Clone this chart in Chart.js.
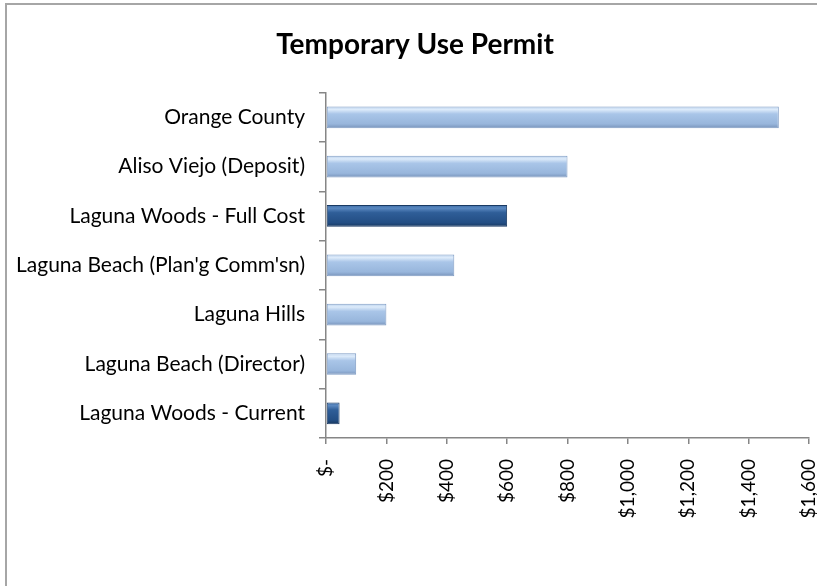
<!DOCTYPE html>
<html>
<head>
<meta charset="utf-8">
<script src="https://cdn.jsdelivr.net/npm/chart.js@4/dist/chart.umd.min.js"></script>
<style>
  html, body { margin: 0; padding: 0; background: #fff; }
  #wrap { position: relative; width: 817px; height: 586px; }
</style>
</head>
<body>
<div id="wrap"><canvas id="c"></canvas></div>
<script>
const categories = [
  "Orange County",
  "Aliso Viejo (Deposit)",
  "Laguna Woods - Full Cost",
  "Laguna Beach (Plan'g Comm'sn)",
  "Laguna Hills",
  "Laguna Beach (Director)",
  "Laguna Woods - Current"
];
const permitFees = [1500, 800, 600, 425, 200, 100, 45];
const xTickMin = 0;
const xTickMax = 1600;
const xTickStep = 200;
const chartTitle = "Temporary Use Permit";

function isHighlight(i) { return categories[i].indexOf("Laguna Woods") === 0; }

function barFill(ctx) {
  const dark = isHighlight(ctx.dataIndex);
  const fallback = dark ? "#2B5B94" : "#9DBBE0";
  const chart = ctx.chart;
  const ys = chart.scales && chart.scales.y;
  if (!ys || ctx.type !== "data") return fallback;
  const c = ys.getPixelForValue(ctx.dataIndex);
  if (!isFinite(c)) return fallback;
  const h = 11;
  const g = chart.ctx.createLinearGradient(0, c - h, 0, c + h);
  if (dark) {
    g.addColorStop(0, "#3E6DA6");
    g.addColorStop(0.15, "#5A88C0");
    g.addColorStop(0.35, "#2F5E98");
    g.addColorStop(0.8, "#234E84");
    g.addColorStop(1, "#17375E");
  } else {
    g.addColorStop(0, "#B7CFEC");
    g.addColorStop(0.15, "#DDEBFA");
    g.addColorStop(0.35, "#A9C5E8");
    g.addColorStop(0.8, "#98B6DC");
    g.addColorStop(1, "#7893BA");
  }
  return g;
}

const frame = {
  id: "frame",
  beforeDraw(chart) {
    // widen the label clip area of the category axis so long labels are not cut
    if (chart.scales.y) chart.scales.y.left = 0;
  },
  afterDraw(chart) {
    const x = chart.ctx;
    x.save();
    x.strokeStyle = "#A6A6A6";
    x.lineWidth = 2;
    x.beginPath();
    x.moveTo(6, 586);
    x.lineTo(6, 4);
    x.lineTo(817, 4);
    x.stroke();
    x.restore();
  }
};

new Chart(document.getElementById("c"), {
  type: "bar",
  data: {
    labels: categories,
    datasets: [{
      data: permitFees,
      backgroundColor: barFill,
      borderColor: (ctx) => isHighlight(ctx.dataIndex) ? "#1A3A63" : "#7F9CC4",
      borderWidth: 1,
      borderSkipped: false,
      barPercentage: 0.44,
      categoryPercentage: 1.0
    }]
  },
  plugins: [frame],
  options: {
    indexAxis: "y",
    responsive: true,
    maintainAspectRatio: false,
    animation: false,
    layout: { padding: { left: 21, right: 8, top: 0, bottom: 0 } },
    plugins: {
      legend: { display: false },
      tooltip: { enabled: false },
      title: {
        display: true,
        text: chartTitle,
        color: "#000",
        font: { family: "Lato", size: 28, weight: "bold", lineHeight: 1.2 },
        padding: { top: 28, bottom: 31 }
      }
    },
    scales: {
      x: {
        type: "linear",
        min: xTickMin,
        max: xTickMax,
        ticks: {
          stepSize: xTickStep,
          minRotation: 90,
          maxRotation: 90,
          padding: 15,
          color: "#000",
          font: { family: "Lato", size: 19 },
          callback: (v) => v === 0 ? "$-" : "$" + Number(v).toLocaleString("en-US")
        },
        grid: { display: true, drawOnChartArea: false, drawTicks: true, tickLength: 6, color: "#868686", lineWidth: 1.5 },
        border: { display: true, color: "#868686", width: 1.5 },
        afterFit(s) { s.height = 148; s.paddingLeft = 0; s.paddingRight = 0; }
      },
      y: {
        type: "category",
        ticks: {
          padding: 14,
          color: "#000",
          font: { family: "Lato", size: 21 },
          autoSkip: false
        },
        grid: { display: true, drawOnChartArea: false, drawTicks: true, tickLength: 7, offset: true, color: "#868686", lineWidth: 1.5 },
        border: { display: true, color: "#868686", width: 1.5 },
        afterFit(s) { s.width = 305; }
      }
    }
  }
});
</script>
</body>
</html>
